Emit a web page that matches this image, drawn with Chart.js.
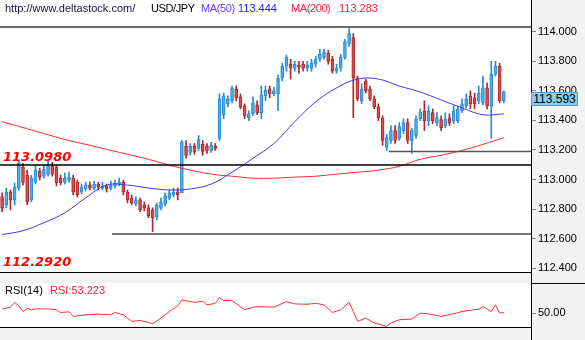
<!DOCTYPE html>
<html>
<head>
<meta charset="utf-8">
<script src="https://cdn.jsdelivr.net/npm/chart.js@4/dist/chart.umd.min.js"></script>
<style>
  html, body { margin: 0; padding: 0; }
  body { width: 585px; height: 340px; background: #f2f2f2; position: relative; overflow: hidden;
         font-family: "Liberation Sans", Arial, sans-serif; font-size: 11px; }
  canvas { position: absolute; left: 0; }
  #main { top: 0; }
  #rsi { top: 283px; }
  .txt { position: absolute; white-space: nowrap; line-height: 13px; }
  .lvl { position: absolute; left: 3px; white-space: nowrap; line-height: 15px;
         font: italic bold 13px "DejaVu Sans", sans-serif; color: #ff0000; }
  .ln { position: absolute; background: #000; }
  #price { position: absolute; left: 531px; width: 47px; height: 14px; box-sizing: border-box;
           background: #86cdf0; border: 1px solid #4a9fd5; font-size: 12px; line-height: 12px;
           text-align: center; color: #000; }
</style>
</head>
<body>
<canvas id="main" width="585" height="272"></canvas>
<canvas id="rsi" width="585" height="44"></canvas>

<div class="ln" style="left:0;top:272px;width:531px;height:1px"></div>
<div class="ln" style="left:0;top:327px;width:531px;height:1px"></div>
<div class="ln" style="left:531px;top:283px;width:54px;height:1px"></div>
<div class="ln" style="left:531px;top:0;width:1px;height:340px"></div>

<div class="txt" style="left:5px;top:2px;color:#14143c">http://www.deltastock.com/</div>
<div class="txt" style="left:151px;top:2px;color:#000;letter-spacing:-0.4px">USD/JPY</div>
<div class="txt" style="left:201px;top:2px;color:#6a3cff;letter-spacing:-0.4px">MA(50)</div>
<div class="txt" style="left:238px;top:2px;color:#2020ff">113.444</div>
<div class="txt" style="left:291px;top:2px;color:#ff2050;letter-spacing:-0.4px">MA(200)</div>
<div class="txt" style="left:339px;top:2px;color:#ff2040">113.283</div>

<div class="lvl" style="top:149px">113.0980</div>
<div class="lvl" style="top:254px">112.2920</div>

<div class="txt" style="left:5px;top:284px;color:#000">RSI(14)</div>
<div class="txt" style="left:50px;top:284px;color:#ff2040">RSI:53.223</div>

<div id="price">113.593</div>

<script>
const open = [
  112.883, 112.829, 112.916, 112.863, 112.943, 113.084, 113.030, 112.863, 112.983, 113.057,
  113.023, 113.037, 113.090, 113.084, 113.010, 112.983, 112.997, 113.010, 112.983, 112.916,
  112.937, 112.963, 112.943, 112.970, 112.943, 112.957, 112.943, 112.957, 112.970, 112.983,
  112.916, 112.876, 112.836, 112.863, 112.829, 112.809, 112.796, 112.749, 112.809, 112.836,
  112.876, 112.896, 112.916, 112.910, 113.224, 113.184, 113.224, 113.211, 113.238, 113.224,
  113.197, 113.224, 113.278, 113.438, 113.512, 113.532, 113.612, 113.559, 113.498, 113.418,
  113.445, 113.505, 113.452, 113.565, 113.612, 113.579, 113.579, 113.686, 113.766, 113.779,
  113.753, 113.773, 113.779, 113.753, 113.753, 113.779, 113.813, 113.826, 113.853, 113.813,
  113.732, 113.753, 113.826, 113.920, 113.960, 113.686, 113.532, 113.666, 113.612, 113.545,
  113.492, 113.418, 113.217, 113.264, 113.331, 113.278, 113.331, 113.385, 113.264, 113.298,
  113.411, 113.465, 113.398, 113.452, 113.385, 113.405, 113.365, 113.418, 113.398, 113.398,
  113.465, 113.498, 113.565, 113.552, 113.532, 113.518, 113.619, 113.498, 113.712, 113.766,
  113.532
];
const high = [
  112.910, 112.943, 112.930, 112.977, 113.130, 113.110, 113.064, 113.030, 113.097, 113.077,
  113.097, 113.130, 113.117, 113.097, 113.030, 113.044, 113.050, 113.030, 112.997, 112.970,
  112.983, 112.983, 112.990, 112.983, 112.983, 112.970, 112.990, 112.997, 113.010, 112.997,
  112.930, 112.896, 112.883, 112.876, 112.850, 112.829, 112.809, 112.843, 112.876, 112.910,
  112.930, 112.943, 112.943, 113.264, 113.264, 113.244, 113.244, 113.298, 113.264, 113.244,
  113.251, 113.244, 113.579, 113.585, 113.565, 113.632, 113.632, 113.579, 113.512, 113.465,
  113.559, 113.532, 113.632, 113.632, 113.632, 113.625, 113.706, 113.786, 113.840, 113.813,
  113.799, 113.799, 113.799, 113.799, 113.813, 113.833, 113.880, 113.880, 113.873, 113.833,
  113.779, 113.846, 113.947, 114.020, 113.987, 113.699, 113.646, 113.679, 113.632, 113.565,
  113.512, 113.431, 113.304, 113.365, 113.365, 113.385, 113.411, 113.411, 113.345, 113.431,
  113.478, 113.532, 113.498, 113.478, 113.452, 113.431, 113.452, 113.445, 113.498, 113.498,
  113.545, 113.579, 113.599, 113.585, 113.632, 113.699, 113.652, 113.799, 113.799, 113.786,
  113.599
];
const low = [
  112.783, 112.809, 112.796, 112.829, 112.930, 112.963, 112.829, 112.850, 112.970, 112.997,
  113.010, 113.023, 113.023, 112.957, 112.963, 112.970, 112.983, 112.896, 112.883, 112.903,
  112.923, 112.930, 112.930, 112.930, 112.930, 112.916, 112.930, 112.943, 112.957, 112.896,
  112.843, 112.829, 112.823, 112.783, 112.789, 112.742, 112.649, 112.729, 112.796, 112.823,
  112.863, 112.883, 112.863, 112.963, 113.144, 113.164, 113.171, 113.197, 113.164, 113.177,
  113.184, 113.197, 113.264, 113.411, 113.492, 113.518, 113.532, 113.478, 113.411, 113.398,
  113.431, 113.438, 113.411, 113.532, 113.552, 113.565, 113.465, 113.666, 113.732, 113.679,
  113.732, 113.719, 113.732, 113.732, 113.732, 113.759, 113.799, 113.813, 113.779, 113.719,
  113.719, 113.732, 113.813, 113.900, 113.418, 113.532, 113.512, 113.585, 113.532, 113.478,
  113.398, 113.231, 113.197, 113.244, 113.244, 113.264, 113.311, 113.244, 113.177, 113.278,
  113.398, 113.331, 113.365, 113.378, 113.365, 113.331, 113.351, 113.365, 113.378, 113.385,
  113.452, 113.485, 113.478, 113.478, 113.512, 113.505, 113.478, 113.278, 113.699, 113.518,
  113.518
];
const close = [
  112.809, 112.916, 112.863, 112.950, 113.110, 112.983, 112.850, 113.010, 113.064, 113.017,
  113.070, 113.097, 113.037, 112.977, 112.977, 113.010, 113.017, 112.916, 112.896, 112.950,
  112.963, 112.943, 112.970, 112.950, 112.957, 112.937, 112.963, 112.977, 112.983, 112.916,
  112.863, 112.843, 112.863, 112.796, 112.809, 112.756, 112.742, 112.829, 112.850, 112.890,
  112.910, 112.916, 112.896, 113.251, 113.164, 113.224, 113.191, 113.271, 113.191, 113.197,
  113.231, 113.211, 113.545, 113.565, 113.545, 113.619, 113.552, 113.492, 113.431, 113.445,
  113.518, 113.452, 113.572, 113.605, 113.579, 113.599, 113.686, 113.766, 113.826, 113.753,
  113.779, 113.759, 113.753, 113.773, 113.786, 113.813, 113.846, 113.860, 113.799, 113.732,
  113.753, 113.826, 113.933, 113.987, 113.686, 113.545, 113.612, 113.599, 113.545, 113.492,
  113.418, 113.264, 113.284, 113.331, 113.264, 113.358, 113.385, 113.264, 113.331, 113.411,
  113.458, 113.398, 113.465, 113.398, 113.418, 113.351, 113.411, 113.385, 113.465, 113.478,
  113.512, 113.545, 113.512, 113.512, 113.585, 113.619, 113.498, 113.712, 113.766, 113.532,
  113.593
];

// moving averages, read every 5th bar
const maIndex = [0, 5, 10, 15, 20, 25, 30, 35, 40, 45, 50, 55, 60, 65, 70, 75, 80, 85, 90, 95, 100, 105, 110, 115, 120];
const ma50 = [112.629, 112.655, 112.709, 112.776, 112.877, 112.963, 112.963, 112.943, 112.930, 112.937,
  112.970, 113.050, 113.144, 113.244, 113.391, 113.525, 113.619, 113.679, 113.679, 113.632,
  113.592, 113.538, 113.485, 113.438, 113.444];
const ma200 = [113.391, 113.351, 113.311, 113.271, 113.238, 113.204, 113.171, 113.137, 113.097, 113.064,
  113.037, 113.023, 113.010, 113.010, 113.017, 113.023, 113.037, 113.050, 113.064, 113.090,
  113.137, 113.164, 113.197, 113.238, 113.283];

const rsiIndex = [0, 2, 3, 4, 5, 6, 7, 8, 11, 13, 14, 16, 17, 20, 23, 26, 27, 29, 31, 33, 35, 36, 38, 40, 42, 43,
  46, 48, 49, 51, 52, 53, 55, 58, 60, 62, 65, 68, 70, 73, 75, 77, 79, 81, 83, 84, 85, 87, 89, 92, 93, 95,
  98, 100, 102, 105, 108, 110, 114, 115, 117, 118, 119, 120];
const rsiValues = [53.8, 55.8, 60.7, 57.1, 51.5, 54.8, 53.2, 54.1, 54.1, 53.2, 50.5, 51.2, 46.6, 48.2, 48.9,
  48.2, 50.5, 48.2, 41.6, 42.6, 40.6, 39.3, 44.9, 51.5, 57.1, 63, 60.7, 61.7, 58.1, 59.7, 65.3, 62.4, 62.4,
  53.2, 55.8, 56.4, 55.8, 61.4, 59.1, 58.7, 59.7, 58.1, 50.5, 53.2, 60.7, 51.5, 41.6, 44.9, 40, 36.7, 40,
  43.3, 43.9, 49.9, 49.2, 46.6, 49.2, 51.5, 53.8, 56.4, 51.5, 58.1, 49.9, 50.5];

// price axis labels shown on the right
const priceTicks = [114.0, 113.8, 113.6, 113.4, 113.2, 113.0, 112.8, 112.6, 112.4];

// support / resistance levels and the bar they start at
const levelValues = [114.03, 113.098, 113.19, 112.633];
const levelStart = [-0.5, -0.5, 92.5, 26.3];

const levelColors = ['#3a3a3a', '#000000', '#555555', '#4a4a4a'];
const UP = '#4aaee6', UP_EDGE = '#2a8ad2', DOWN = '#d45050', DOWN_EDGE = '#b02626';

const isUp = i => close[i] >= open[i];

const whiteArea = {
  id: 'whiteArea',
  beforeDraw(chart) {
    const a = chart.chartArea, c = chart.ctx;
    c.save();
    c.fillStyle = '#ffffff';
    c.fillRect(a.left, a.top, a.right - a.left, a.bottom - a.top);
    c.restore();
  }
};

const levelLines = {
  id: 'levelLines',
  afterDatasetsDraw(chart) {
    const c = chart.ctx, xs = chart.scales.x, ys = chart.scales.y, a = chart.chartArea;
    levelValues.forEach((v, i) => {
      const y = ys.getPixelForValue(v);
      c.save();
      c.strokeStyle = levelColors[i];
      c.lineWidth = 1.5;
      c.beginPath();
      c.moveTo(Math.max(a.left, xs.getPixelForValue(levelStart[i])), y);
      c.lineTo(a.right, y);
      c.stroke();
      c.restore();
    });
  }
};

const xAxis = { type: 'linear', min: -0.5, max: 126.5, offset: false, display: false };
const axisFont = { family: 'Liberation Sans', size: 11 };

// right-hand price axis: fixed width, no extra room for the end labels
function fitRight(s) {
  s.width = 54;
  s.paddingTop = 0;
  s.paddingBottom = 0;
}

const mainChart = new Chart(document.getElementById('main').getContext('2d'), {
  type: 'bar',
  data: {
    datasets: [
      {
        type: 'line',
        data: ma50.map((v, k) => ({ x: maIndex[k], y: v })),
        borderColor: '#3a3aff',
        borderWidth: 1,
        pointRadius: 0,
        tension: 0.4
      },
      {
        type: 'line',
        data: ma200.map((v, k) => ({ x: maIndex[k], y: v })),
        borderColor: '#ff2a2a',
        borderWidth: 1,
        pointRadius: 0,
        tension: 0.4
      },
      {
        data: open.map((o, i) => ({ x: i, y: [o, close[i]] })),
        grouped: false,
        barThickness: 3,
        borderWidth: 1,
        borderSkipped: false,
        backgroundColor: ctx => isUp(ctx.dataIndex) ? UP : DOWN,
        borderColor: ctx => isUp(ctx.dataIndex) ? UP_EDGE : DOWN_EDGE
      },
      {
        data: open.map((o, i) => ({ x: i, y: [low[i], high[i]] })),
        grouped: false,
        barThickness: 1,
        borderWidth: 0,
        backgroundColor: ctx => isUp(ctx.dataIndex) ? UP_EDGE : DOWN_EDGE
      }
    ]
  },
  options: {
    responsive: false,
    animation: false,
    events: [],
    layout: { padding: 0 },
    plugins: { legend: { display: false }, tooltip: { enabled: false } },
    scales: {
      x: xAxis,
      y: {
        position: 'right',
        min: 112.376,
        max: 114.213,
        afterFit: fitRight,
        afterBuildTicks(s) { s.ticks = priceTicks.map(v => ({ value: v })); },
        ticks: {
          padding: 2,
          color: '#000',
          font: axisFont,
          callback: v => v.toFixed(3)
        },
        grid: { drawOnChartArea: false, tickLength: 5, color: '#7f7f7f' },
        border: { display: false }
      }
    }
  },
  plugins: [whiteArea, levelLines]
});

new Chart(document.getElementById('rsi').getContext('2d'), {
  type: 'line',
  data: {
    datasets: [{
      data: rsiValues.map((v, k) => ({ x: rsiIndex[k], y: v })),
      borderColor: '#ff3030',
      borderWidth: 1,
      pointRadius: 0,
      tension: 0
    }]
  },
  options: {
    responsive: false,
    animation: false,
    events: [],
    layout: { padding: 0 },
    plugins: { legend: { display: false }, tooltip: { enabled: false } },
    scales: {
      x: xAxis,
      y: {
        position: 'right',
        min: 36,
        max: 80,
        afterFit: fitRight,
        afterBuildTicks(s) { s.ticks = [{ value: 50 }]; },
        ticks: { padding: 2, color: '#000', font: axisFont, callback: v => v.toFixed(2) },
        grid: { drawOnChartArea: false, tickLength: 5, color: '#7f7f7f' },
        border: { display: false }
      }
    }
  },
  plugins: [whiteArea]
});

// last price tag sits with its top edge on the last close
const priceTag = document.getElementById('price');
priceTag.style.top = Math.round(mainChart.scales.y.getPixelForValue(close[close.length - 1])) + 'px';
</script>
</body>
</html>
